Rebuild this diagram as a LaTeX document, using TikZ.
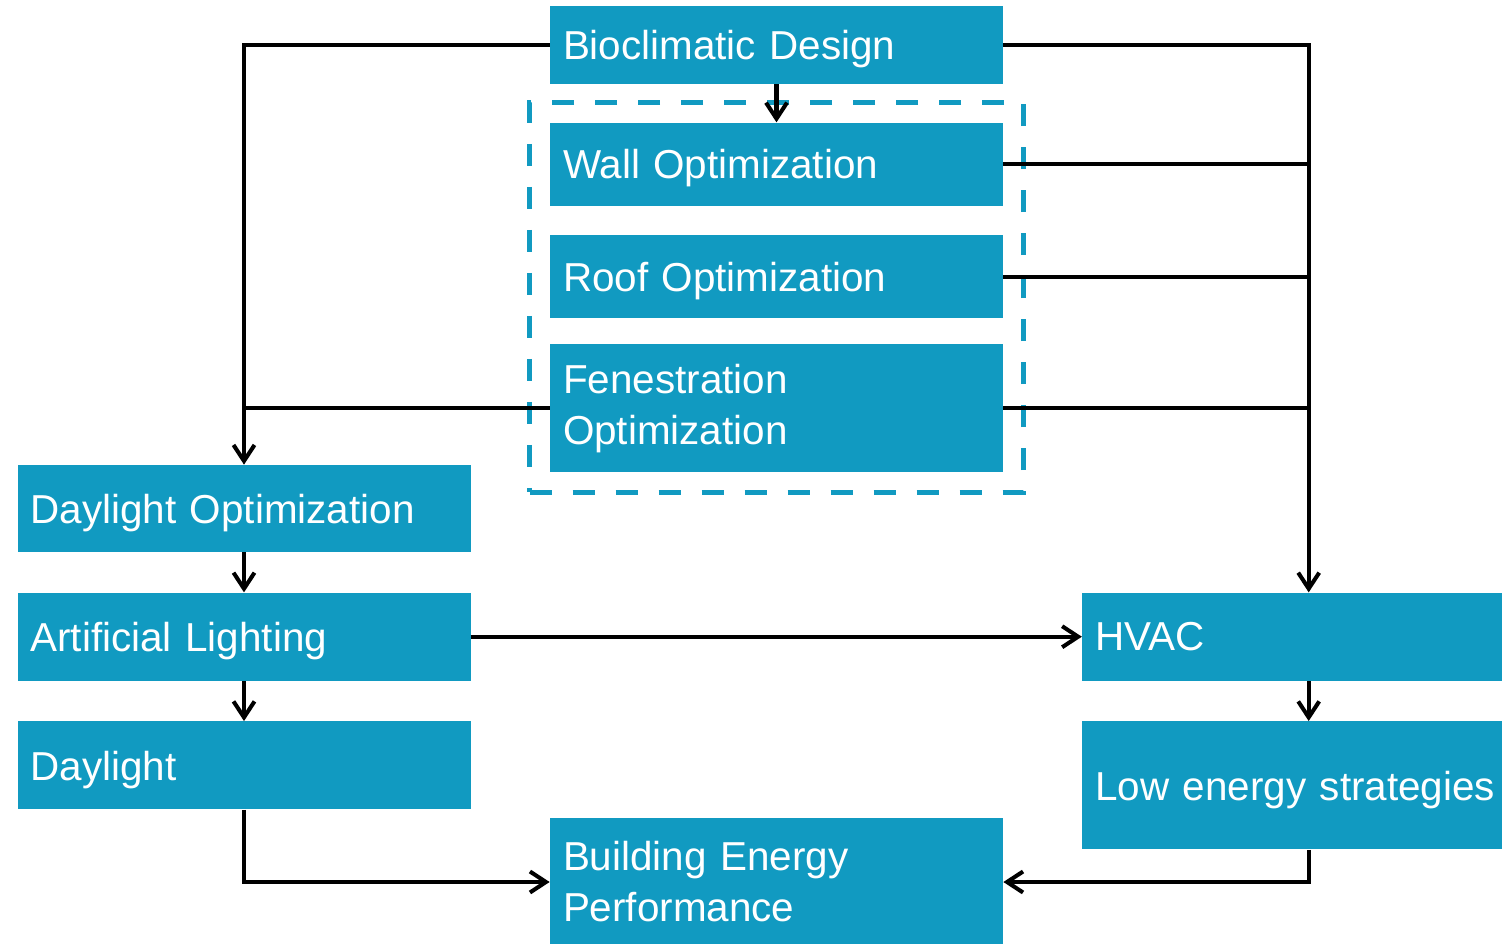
\documentclass[tikz,border=0pt]{standalone}
\usepackage{fontspec}
\setsansfont{Liberation Sans}
\usetikzlibrary{arrows.meta,positioning,fit}
\definecolor{bcblue}{HTML}{119AC1}
\tikzset{
  box/.style={
    rectangle, fill=bcblue, text=white, align=left,
    minimum width=9.06cm, text width=8.54cm, inner xsep=0.26cm, inner ysep=0pt,
    font=\sffamily\fontsize{23}{29}\selectfont
  },
  frame/.style={rectangle, draw=bcblue, line width=2.6pt,
                dash pattern=on 0.44cm off 0.42cm, inner sep=0.4cm},
  link/.style={line width=2.3pt, draw=black},
  arr/.style={link, -{Straight Barb[length=0.32cm, width=0.42cm]}}
}

\begin{document}
\begin{tikzpicture}[node distance=8mm,
    single/.style={box, text depth=0pt},
    tall/.style={box, minimum height=2.56cm}
]
  \useasboundingbox (0,0) rectangle (30.04,-18.88);
  \clip (0,0) rectangle (30.04,-18.88);

  % Design stack (middle column)
  \node[single, minimum height=1.56cm] at (15.53,-0.9) (bio) {Bioclimatic Design};
  \node[single, minimum height=1.66cm, below=7.6mm of bio] (wall) {Wall Optimization};
  \node[single, minimum height=1.66cm, below=5.8mm of wall] (roof) {Roof Optimization};
  \node[tall, below=5mm of roof] (fen) {Fenestration\\Optimization};
  \node[frame, fit=(wall)(roof)(fen)] (envelope) {};

  % Lighting (left column)
  \node[single, minimum height=1.74cm] at (4.88,-10.17) (dayopt) {Daylight Optimization};
  \node[single, minimum height=1.76cm, below=of dayopt] (artlight) {Artificial Lighting};
  \node[single, minimum height=1.76cm, below=of artlight] (daylight) {Daylight};

  % Systems (right column)
  \node[single, minimum height=1.76cm, right=12.22cm of artlight] (hvac) {HVAC};
  \node[tall, text depth=0pt, below=of hvac] (lowe) {Low energy strategies};

  % Result
  \node[tall] at (15.53,-17.64) (bep) {Building Energy\\Performance};

  % Arrows
  \draw[arr] (bio.south) -- (wall.north);
  \draw[arr] (bio.west) -| (dayopt.north);
  \draw[link] (fen.west) -- (fen.west -| dayopt.north);
  \draw[arr] (bio.east) -| (hvac.north);
  \draw[link] (wall.east) -- (wall.east -| hvac.north);
  \draw[link] (roof.east) -- (roof.east -| hvac.north);
  \draw[link] (fen.east) -- (fen.east -| hvac.north);
  \draw[arr] (dayopt) -- (artlight);
  \draw[arr] (artlight) -- (daylight);
  \draw[arr] (artlight) -- (hvac);
  \draw[arr] (hvac) -- (lowe);
  \draw[arr] (daylight.south) |- (bep.west);
  \draw[arr] (lowe.south) |- (bep.east);
\end{tikzpicture}
\end{document}
